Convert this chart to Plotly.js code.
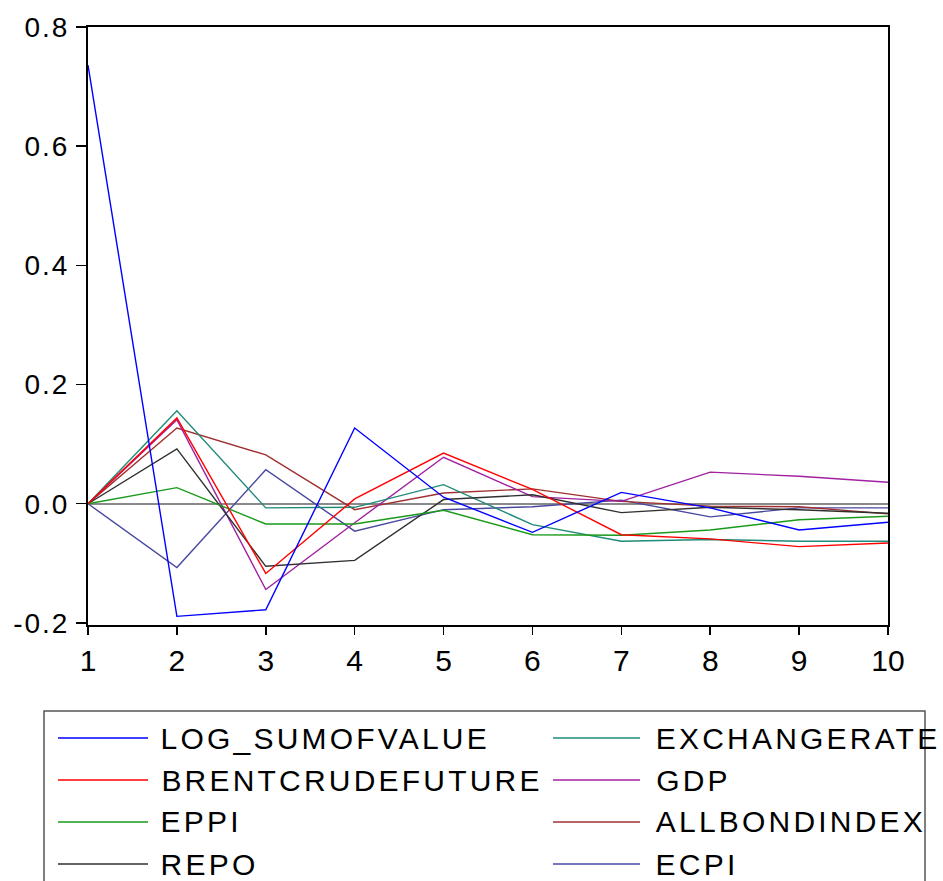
<!DOCTYPE html>
<html>
<head>
<meta charset="utf-8">
<script src="https://cdn.plot.ly/plotly-3.0.1.min.js"></script>
<style>
html,body{margin:0;padding:0;background:#fff;}
#chart{width:943px;height:881px;}
#chart .annotation-text{letter-spacing:3.2px;}
#chart .ytick text{letter-spacing:2px;}
</style>
</head>
<body>
<div id="chart"></div>
<script>
var periods = [1,2,3,4,5,6,7,8,9,10];
var seriesNames = ["LOG_SUMOFVALUE","BRENTCRUDEFUTURE","EPPI","REPO","EXCHANGERATE","GDP","ALLBONDINDEX","ECPI"];
var seriesColors = ["#0000ff","#ff0000","#1a9a1a","#303030","#1f8a78","#a020a0","#a03030","#4848a0"];
var logSumOfValue   = [0.736,-0.189,-0.178, 0.127, 0.011,-0.048, 0.019,-0.007,-0.044,-0.031];
var brentCrudeFuture= [0.000, 0.144,-0.117, 0.008, 0.085, 0.024,-0.052,-0.059,-0.072,-0.066];
var eppi            = [0.000, 0.027,-0.034,-0.034,-0.011,-0.052,-0.053,-0.044,-0.027,-0.021];
var repo            = [0.000, 0.092,-0.105,-0.095, 0.007, 0.015,-0.015,-0.006,-0.010,-0.016];
var exchangeRate    = [0.000, 0.156,-0.007,-0.006, 0.032,-0.035,-0.063,-0.060,-0.063,-0.063];
var gdp             = [0.000, 0.141,-0.144,-0.032, 0.078, 0.012, 0.004, 0.053, 0.046, 0.036];
var allBondIndex    = [0.000, 0.127, 0.082,-0.010, 0.018, 0.025, 0.004,-0.004,-0.005,-0.017];
var ecpi            = [0.000,-0.107, 0.057,-0.046,-0.010,-0.005, 0.006,-0.022,-0.007,-0.007];
var seriesValues = [logSumOfValue, brentCrudeFuture, eppi, repo, exchangeRate, gdp, allBondIndex, ecpi];
var yTicks = [-0.2, 0.0, 0.2, 0.4, 0.6, 0.8];
var yTickLabels = ["-0.2","0.0","0.2","0.4","0.6","0.8"];

var FONT = "Liberation Sans, Arial, sans-serif";
var LETTER_SPACING = 3.2;
var traces = [];
for (var i = seriesNames.length - 1; i >= 0; i--) {
  traces.push({
    x: periods, y: seriesValues[i], name: seriesNames[i], type: "scatter", mode: "lines",
    line: {color: seriesColors[i], width: 1.4}, showlegend: false, hoverinfo: "skip"
  });
}

// legend layout (pixel -> paper conversion)
var L = 88, R = 55, T = 27, B = 256, W = 943, H = 881;
var pw = W - L - R, ph = H - T - B;
function px(x){ return (x - L) / pw; }
function py(y){ return (H - B - y) / ph; }

var shapes = [{
  type: "rect", xref: "paper", yref: "paper",
  x0: px(44), x1: px(925), y0: py(711), y1: py(900),
  line: {color: "#555", width: 1.5}, fillcolor: "rgba(0,0,0,0)", layer: "below"
}];
var annotations = [];
var rowY = [738, 780, 822, 864];
for (var k = 0; k < seriesNames.length; k++) {
  var col = k < 4 ? 0 : 1;
  var row = k % 4;
  var lx0 = col === 0 ? 58 : 553, lx1 = col === 0 ? 148 : 640, tx = col === 0 ? 159 : 654;
  // compensate for centred text growing with CSS letter-spacing
  var shift = seriesNames[k].length * LETTER_SPACING / 2;
  shapes.push({
    type: "line", xref: "paper", yref: "paper",
    x0: px(lx0), x1: px(lx1), y0: py(rowY[row]), y1: py(rowY[row]),
    line: {color: seriesColors[k], width: 1.4}
  });
  annotations.push({
    xref: "paper", yref: "paper", x: px(tx + shift), y: py(rowY[row]),
    xanchor: "left", yanchor: "middle", showarrow: false,
    text: seriesNames[k], font: {family: FONT, size: 30, color: "#000"}
  });
}

var layout = {
  width: W, height: H,
  margin: {l: L, r: R, t: T, b: B, pad: 0},
  paper_bgcolor: "#fff", plot_bgcolor: "#fff",
  showlegend: false,
  font: {family: FONT, size: 24, color: "#000"},
  xaxis: {
    range: [1, 10], tickvals: periods, ticktext: periods.map(String),
    showgrid: false, zeroline: false, showline: true, mirror: true,
    linecolor: "#000", linewidth: 2, ticks: "outside", ticklen: 8, tickwidth: 1.5,
    tickcolor: "#000", tickfont: {family: FONT, size: 30, color: "#000"}
  },
  yaxis: {
    range: [-0.2035, 0.8], tickvals: yTicks, ticktext: yTickLabels,
    showgrid: false, zeroline: true, zerolinecolor: "#8a8a8a", zerolinewidth: 2,
    showline: true, mirror: true, linecolor: "#000", linewidth: 2,
    ticks: "outside", ticklen: 10, tickwidth: 1.5, tickcolor: "#000",
    ticklabelstandoff: 1,
    tickfont: {family: FONT, size: 28, color: "#000"}
  },
  shapes: shapes, annotations: annotations
};
Plotly.newPlot("chart", traces, layout, {displayModeBar: false, staticPlot: true});
</script>
</body>
</html>
